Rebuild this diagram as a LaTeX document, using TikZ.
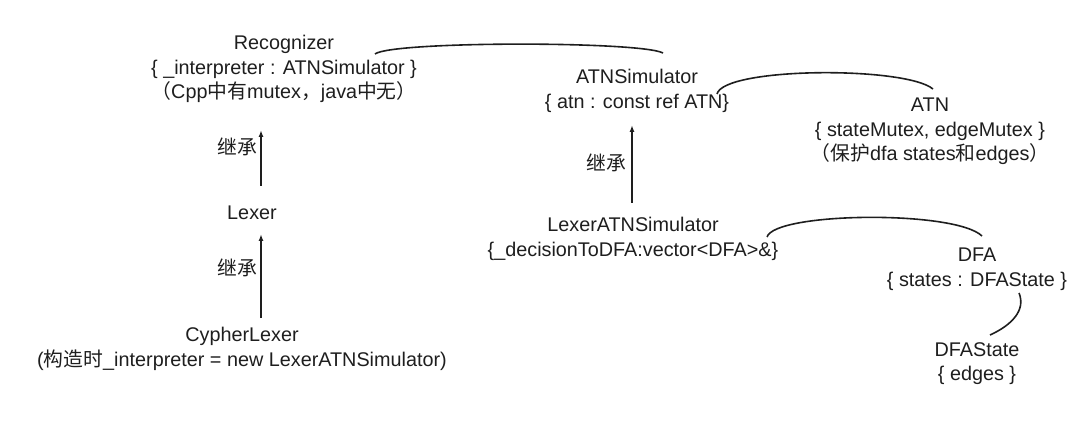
\documentclass[tikz,border=0pt]{standalone}
\usepackage{fontspec}
\setmainfont{Liberation Sans}
\newfontfamily\cjk{Noto Sans CJK SC}
\usetikzlibrary{arrows.meta}
\definecolor{ink}{HTML}{1E1E1E}
\newcommand{\zh}[1]{{\cjk #1}}
\begin{document}
\begin{tikzpicture}[x=1pt,y=-1pt,
  lbl/.style={text=ink,align=center,inner sep=0pt,font=\fontsize{19.8}{24.5}\selectfont},
  inh/.style={draw=ink,line width=1.6pt,-{Latex[length=7pt,width=5pt]}},
  link/.style={draw=ink,line width=1.6pt}]
\useasboundingbox (0,0) rectangle (1080,433);
\node[lbl,anchor=north] (rec) at (284,35) {Recognizer\\\{ \_interpreter : ATNSimulator \}\\\zh{（}Cpp\zh{中有}mutex\zh{，}java\zh{中无）}};
\node[lbl] (lexer) at (252,213) {Lexer};
\node[lbl,anchor=north] (cypher) at (242,327) {CypherLexer\\(\zh{构造时}\_interpreter = new LexerATNSimulator)};
\node[lbl,anchor=north] (atnsim) at (637,69) {ATNSimulator\\\{ atn : const ref ATN\}};
\node[lbl,anchor=north] (lexsim) at (633,217) {LexerATNSimulator\\\{\_decisionToDFA:vector<DFA>\&\}};
\node[lbl,anchor=north] (atn) at (930,98) {ATN\\\{ stateMutex, edgeMutex \}\\\zh{（保护}dfa states\zh{和}edges\zh{）}};
\node[lbl,anchor=north] (dfa) at (977,248) {DFA\\\{ states : DFAState \}};
\node[lbl,anchor=north] (dfastate) at (977,342) {DFAState\\\{ edges \}};
\node[lbl] (k1) at (237,147) {\zh{继承}};
\node[lbl] (k2) at (237,268) {\zh{继承}};
\node[lbl] (k3) at (606,163) {\zh{继承}};
\coordinate (a1s) at (261,186); \coordinate (a1e) at (261,130);
\coordinate (a2s) at (261,318); \coordinate (a2e) at (261,234);
\coordinate (a3s) at (632,203); \coordinate (a3e) at (632,125);
\draw[inh] (a1s) -- (a1e);
\draw[inh] (a2s) -- (a2e);
\draw[inh] (a3s) -- (a3e);
\coordinate (c1s) at (375,54); \coordinate (c1e) at (663,53);
\coordinate (c2s) at (717,94); \coordinate (c2e) at (933,89);
\coordinate (c3s) at (767,237); \coordinate (c3e) at (982,236);
\coordinate (c4s) at (1019,293); \coordinate (c4e) at (990,335);
\draw[link] (c1s) .. controls (392,41) and (640,41) .. (c1e);
\draw[link] (c2s) .. controls (724,67) and (905,66) .. (c2e);
\draw[link] (c3s) .. controls (775,212) and (955,210) .. (c3e);
\draw[link] (c4s) .. controls (1026,310) and (1012,325) .. (c4e);
\end{tikzpicture}
\end{document}
